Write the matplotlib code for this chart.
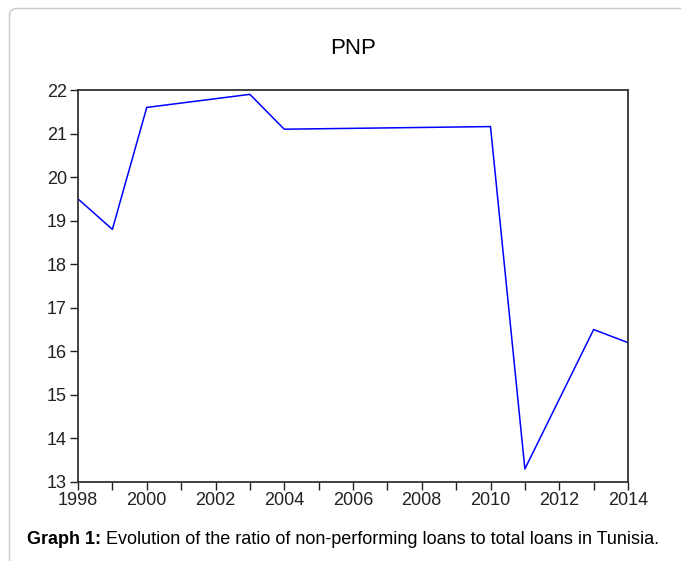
import matplotlib.pyplot as plt
from matplotlib.patches import FancyBboxPatch

plt.rcParams['font.family'] = ['Liberation Sans', 'DejaVu Sans']

years = [1998, 1999, 2000, 2001, 2002, 2003, 2004, 2005, 2006, 2007,
         2008, 2009, 2010, 2011, 2012, 2013, 2014]
pnp = [19.5, 18.8, 21.6, 21.7, 21.8, 21.9, 21.1, 21.11, 21.12, 21.13,
       21.14, 21.15, 21.16, 13.3, 14.9, 16.5, 16.2]
yticks = [13, 14, 15, 16, 17, 18, 19, 20, 21, 22]

W, H = 681, 561
fig = plt.figure(figsize=(W / 100, H / 100), dpi=100)

# light rounded frame round the figure (open to right/bottom)
frame = FancyBboxPatch((9.5 / W, -0.2), 1.2, 1.2 - 8.5 / H,
                       boxstyle="round,pad=0,rounding_size=0.012",
                       transform=fig.transFigure, fill=False,
                       edgecolor='#c8c8c8', linewidth=1.0)
fig.patches.append(frame)

ax = fig.add_axes([78 / W, 1 - 482 / H, (628 - 78) / W, (482 - 90) / H])
ax.plot(years, pnp, color='#0000ff', linewidth=1.1)

ax.set_xlim(1998, 2014)
ax.set_ylim(13, 22)
ax.set_xticks(years)
ax.set_xticklabels([str(y) if y % 2 == 0 else '' for y in years])
ax.set_yticks(yticks)
ax.tick_params(direction='out', length=6, width=1, labelsize=13,
               colors='#222222', pad=2)
ax.tick_params(axis='x', pad=1)
for s in ax.spines.values():
    s.set_color('#333333')
    s.set_linewidth(1.3)

fig.text(353 / W, 1 - 48 / H, 'PNP', ha='center', va='center', fontsize=16)

cap_y = 1 - 540 / H
t1 = fig.text(27 / W, cap_y, 'Graph 1:', ha='left', va='center',
              fontsize=13, fontweight='bold')
fig.canvas.draw()
bb = t1.get_window_extent()
fig.text((bb.x1 + 5) / W, cap_y,
         'Evolution of the ratio of non-performing loans to total loans in Tunisia.',
         ha='left', va='center', fontsize=13)

fig.savefig('out.png', dpi=100)
